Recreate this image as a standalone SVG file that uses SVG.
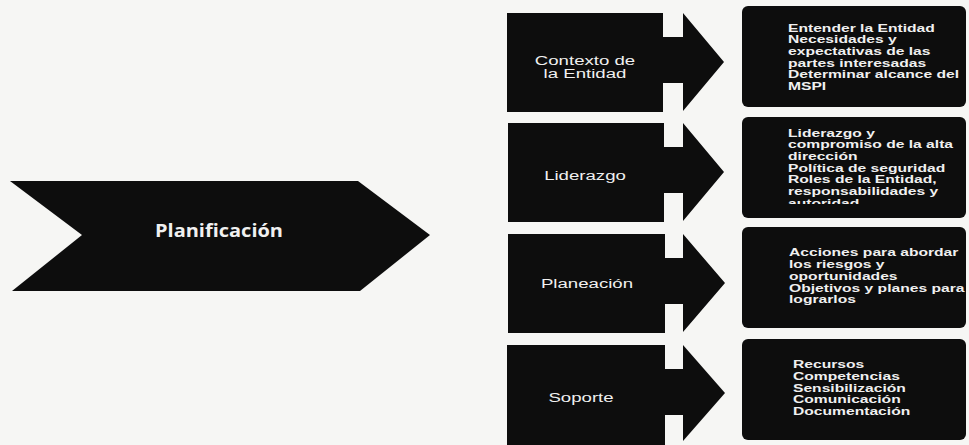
<svg xmlns="http://www.w3.org/2000/svg" width="969" height="445" viewBox="0 0 969 445">
  <style>
    .shape { fill: #0d0d0d; }
    .lbl { font-family: "Liberation Sans", Arial, sans-serif; font-size: 13.5px; fill: #f0f0f0; text-anchor: middle; }
    .det { font-family: "Liberation Sans", Arial, sans-serif; font-size: 11.5px; font-weight: bold; fill: #f0f0f0; }
    .main { font-family: "Open Sans", "Noto Sans", sans-serif; font-size: 17px; font-weight: bold; fill: #f0f0f0; text-anchor: middle; }
  </style>
  <defs>
    <clipPath id="cutLast">
      <rect x="-20" y="190" width="300" height="14"/>
    </clipPath>
  </defs>
  <rect width="969" height="445" fill="#f6f6f4"/>

  <g id="planificacion">
    <polygon class="shape" points="10,181 358,181 430,235 360,291 12,291 82,235"/>
    <text class="main" x="219" y="237" textLength="128" lengthAdjust="spacingAndGlyphs">Planificación</text>
  </g>

  <g id="contexto">
    <path class="shape" d="M507,13 H663 V37 H683 V13 L724,62 L683,111 V83 H663 V112 H507 Z"/>
    <g transform="translate(585,0) scale(1.38,1)">
      <text class="lbl" x="0" y="65">Contexto de</text>
      <text class="lbl" x="0" y="78">la Entidad</text>
    </g>
  </g>

  <g id="liderazgo">
    <path class="shape" d="M508,123 H664 V147 H683 V123 L724,172 L683,221 V193 H664 V222 H508 Z"/>
    <g transform="translate(585,0) scale(1.38,1)">
      <text class="lbl" x="0" y="180">Liderazgo</text>
    </g>
  </g>

  <g id="planeacion">
    <path class="shape" d="M508,234 H665 V258 H683 V234 L725,283 L683,332 V304 H665 V333 H508 Z"/>
    <g transform="translate(587,0) scale(1.38,1)">
      <text class="lbl" x="0" y="288">Planeación</text>
    </g>
  </g>

  <g id="soporte">
    <path class="shape" d="M507,345 H665 V369 H683 V345 L725,393 L683,441 V415 H665 V445 H507 Z"/>
    <g transform="translate(581,0) scale(1.38,1)">
      <text class="lbl" x="0" y="402">Soporte</text>
    </g>
  </g>

  <g id="detalle-contexto">
    <rect class="shape" x="742" y="6" width="224" height="101" rx="6"/>
    <g transform="translate(788,0) scale(1.36,1)">
      <text class="det" x="0" y="31.7">Entender la Entidad</text>
      <text class="det" x="0" y="43.3">Necesidades y</text>
      <text class="det" x="0" y="55">expectativas de las</text>
      <text class="det" x="0" y="66.7">partes interesadas</text>
      <text class="det" x="0" y="78.3">Determinar alcance del</text>
      <text class="det" x="0" y="90">MSPI</text>
    </g>
  </g>

  <g id="detalle-liderazgo">
    <rect class="shape" x="742" y="117" width="224" height="101" rx="6"/>
    <g transform="translate(788,0) scale(1.36,1)">
      <text class="det" x="0" y="136.7">Liderazgo y</text>
      <text class="det" x="0" y="148.3">compromiso de la alta</text>
      <text class="det" x="0" y="160">dirección</text>
      <text class="det" x="0" y="171.7">Política de seguridad</text>
      <text class="det" x="0" y="183.3">Roles de la Entidad,</text>
      <text class="det" x="0" y="195">responsabilidades y</text>
      <text class="det" x="0" y="206.7" clip-path="url(#cutLast)">autoridad</text>
    </g>
  </g>

  <g id="detalle-planeacion">
    <rect class="shape" x="742" y="227" width="224" height="101" rx="6"/>
    <g transform="translate(789,0) scale(1.36,1)">
      <text class="det" x="0" y="256">Acciones para abordar</text>
      <text class="det" x="0" y="268">los riesgos y</text>
      <text class="det" x="0" y="280">oportunidades</text>
      <text class="det" x="0" y="291.7">Objetivos y planes para</text>
      <text class="det" x="0" y="303.3">lograrlos</text>
    </g>
  </g>

  <g id="detalle-soporte">
    <rect class="shape" x="742" y="339" width="224" height="101" rx="6"/>
    <g transform="translate(793,0) scale(1.36,1)">
      <text class="det" x="0" y="368">Recursos</text>
      <text class="det" x="0" y="380">Competencias</text>
      <text class="det" x="0" y="392">Sensibilización</text>
      <text class="det" x="0" y="403.5">Comunicación</text>
      <text class="det" x="0" y="415">Documentación</text>
    </g>
  </g>

  <g id="connectors"/>
</svg>
